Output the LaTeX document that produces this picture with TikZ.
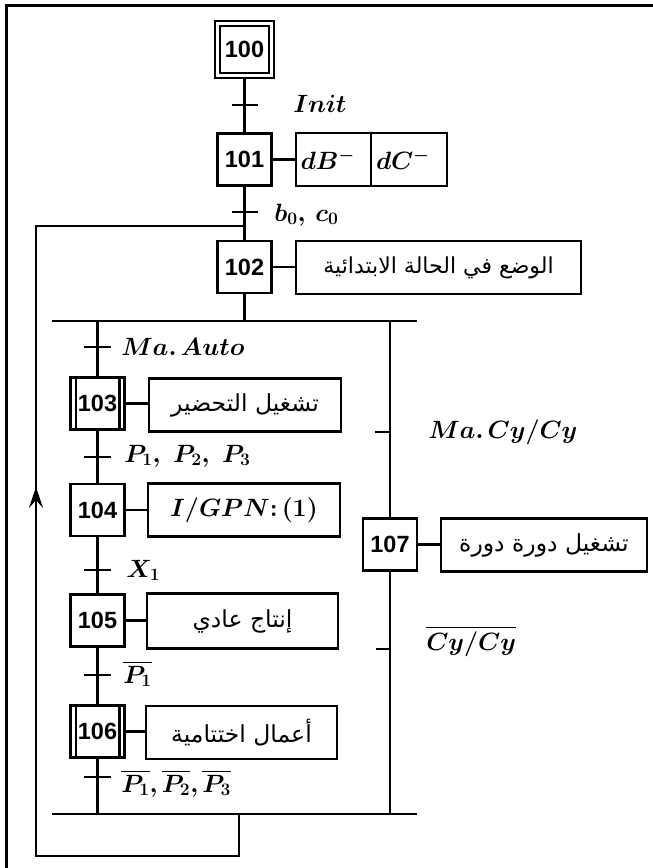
\RequirePackage{fix-cm}
\documentclass[tikz,border=0pt]{standalone}
\usepackage{amsmath,bm}
\usepackage{fontspec}
\setsansfont{Liberation Sans}
\newfontfamily\arabicfont[Script=Arabic]{DejaVu Sans}
\TeXXeTstate=1
\usetikzlibrary{arrows.meta}
\begin{document}
\begin{tikzpicture}[x=1pt,y=-1pt,line width=2.6pt,
  stepbox/.style={draw,line width=2.7pt,minimum width=54pt,minimum height=52pt,inner sep=0pt,font=\fontsize{23.5}{26}\selectfont\sffamily\bfseries},
  initstep/.style={stepbox,double,double distance=2.3pt,line width=2.1pt},
  actbox/.style={draw,line width=2.7pt,minimum height=53pt,inner sep=0pt},
  arab/.style={font=\fontsize{23.5}{26}\selectfont\arabicfont},
  lbl/.style={anchor=base west,inner sep=0pt,font=\fontsize{25}{28}\selectfont},
  tick/.style={line width=2.5pt},
  link/.style={line width=2.6pt}]
\useasboundingbox (0,0) rectangle (653,868);
% frame
\draw[line width=2.4pt] (6.5,872) -- (6.5,5.5) -- (657,5.5);
% steps and actions
\node[initstep] (s100) at (244.5,49.5) {100};
\node[stepbox] (s101) at (244.5,159.5) {101};
\node[actbox,minimum width=75pt,text width=66pt,align=left,font=\fontsize{25}{28}\selectfont] (a101b) at (333.5,159.5) {$\boldsymbol{dB^{-}}$};
\node[actbox,minimum width=76pt,text width=66pt,align=left,font=\fontsize{25}{28}\selectfont] (a101c) at (409,159.5) {$\boldsymbol{dC^{-}}$};
\node[stepbox] (s102) at (244.5,267) {102};
\node[actbox,arab,font=\fontsize{22}{26}\selectfont\arabicfont,minimum width=285pt] (a102) at (438.5,267.5) {\beginR الوضع في الحالة الابتدائية\endR};
\node[stepbox] (s103) at (97.5,403.5) {103};
\node[actbox,arab,minimum width=192pt] (a103) at (245,405) {\beginR تشغيل التحضير\endR};
\node[stepbox] (s104) at (97.5,510) {104};
\node[actbox,minimum width=192pt,font=\fontsize{25}{28}\selectfont] (a104) at (244,510) {$\boldsymbol{I/GPN{:}\,(1)}$\hspace{8pt}};
\node[stepbox] (s105) at (97.5,620.5) {105};
\node[actbox,arab,minimum width=191pt,minimum height=55pt] (a105) at (242.5,621) {\beginR إنتاج عادي\endR};
\node[stepbox] (s106) at (97.5,731.5) {106};
\node[actbox,arab,minimum width=191pt] (a106) at (241.5,732.5) {\beginR أعمال اختتامية\endR};
\node[stepbox] (s107) at (390,544.5) {107};
\node[actbox,arab,minimum width=206pt] (a107) at (544,545) {\beginR تشغيل دورة دورة\endR};
% macro-step inner verticals
\foreach \s in {s103,s106}{
  \draw[line width=2.3pt] ([xshift=6.5pt]\s.north west) -- ([xshift=6.5pt]\s.south west);
  \draw[line width=2.3pt] ([xshift=-6.5pt]\s.north east) -- ([xshift=-6.5pt]\s.south east);
}
% action links
\draw[link] (s101.east) -- (a101b.west);
\draw[link] (s102.east) -- (s102.east -| a102.west);
\draw[link] (s103.east) -- (s103.east -| a103.west);
\draw[link] (s104.east) -- (s104.east -| a104.west);
\draw[link] (s105.east) -- (s105.east -| a105.west);
\draw[link] (s106.east) -- (s106.east -| a106.west);
\draw[link] (s107.east) -- (s107.east -| a107.west);
% coordinates
\coordinate (divL) at (52,321);
\coordinate (divR) at (417,321);
\coordinate (convL) at (52,814);
\coordinate (convR) at (417,814);
\coordinate (loopA) at (239,814);
\coordinate (lp1) at (239,856);
\coordinate (lp2) at (36,856);
\coordinate (lp3) at (36,226);
\coordinate (arrtip) at (36,487);
% main sequence
\draw[link] (s100.south) -- (s101.north);
\draw[link] (s101.south) -- (s102.north);
\draw[link] (s102.south) -- (s102.south |- divL);
\draw[link] (divL) -- (divR);
\draw[link] (s103.north |- divL) -- (s103.north);
\draw[link] (s103.south) -- (s104.north);
\draw[link] (s104.south) -- (s105.north);
\draw[link] (s105.south) -- (s106.north);
\draw[link] (s106.south) -- (s106.south |- convL);
\draw[link] (s107.north |- divL) -- (s107.north);
\draw[link] (s107.south) -- (s107.south |- convL);
\draw[link] (convL) -- (convR);
% loop back
\draw[link] (loopA) -- (lp1) -- (lp2) -- (lp3) -- (s101.south |- lp3);
\draw[link,-{Stealth[length=21pt,width=14pt,inset=8pt]}] (lp2) -- (arrtip);
% transitions
\draw[tick] (231.5,105) -- (258,105);
\draw[tick] (231.5,212) -- (258,212);
\draw[tick] (84,347) -- (111,347);
\draw[tick] (84,457) -- (111,457);
\draw[tick] (84,570) -- (111,570);
\draw[tick] (84,675) -- (111,675);
\draw[tick] (84,777) -- (111,777);
\draw[tick] (375,432) -- (s107.north |- 0,432);
\draw[tick] (376,649) -- (s107.south |- 0,649);
% transition labels
\node[lbl] (tInit) at (292,112) {$\boldsymbol{Init}$};
\node[lbl] (tb0) at (273,221) {$\boldsymbol{b_0,\mkern4mu c_0}$};
\node[lbl] (tMa) at (120,355) {$\boldsymbol{Ma.\,Auto}$};
\node[lbl] (tP) at (123,462) {$\boldsymbol{P_1,\mkern6mu P_2,\mkern6mu P_3}$};
\node[lbl] (tX) at (125,577) {$\boldsymbol{X_1}$};
\node[lbl] (tP1n) at (122,683) {$\overline{\boldsymbol{P_1}}$};
\node[lbl] (tPn) at (120,792) {$\overline{\boldsymbol{P_1}}\boldsymbol{,}\overline{\boldsymbol{P_2}}\boldsymbol{,}\overline{\boldsymbol{P_3}}$};
\node[lbl] (tCy) at (427,438) {$\boldsymbol{Ma.\,Cy/Cy}$};
\node[lbl] (tCyn) at (425,650) {$\overline{\boldsymbol{Cy/Cy}}$};
\end{tikzpicture}
\end{document}
